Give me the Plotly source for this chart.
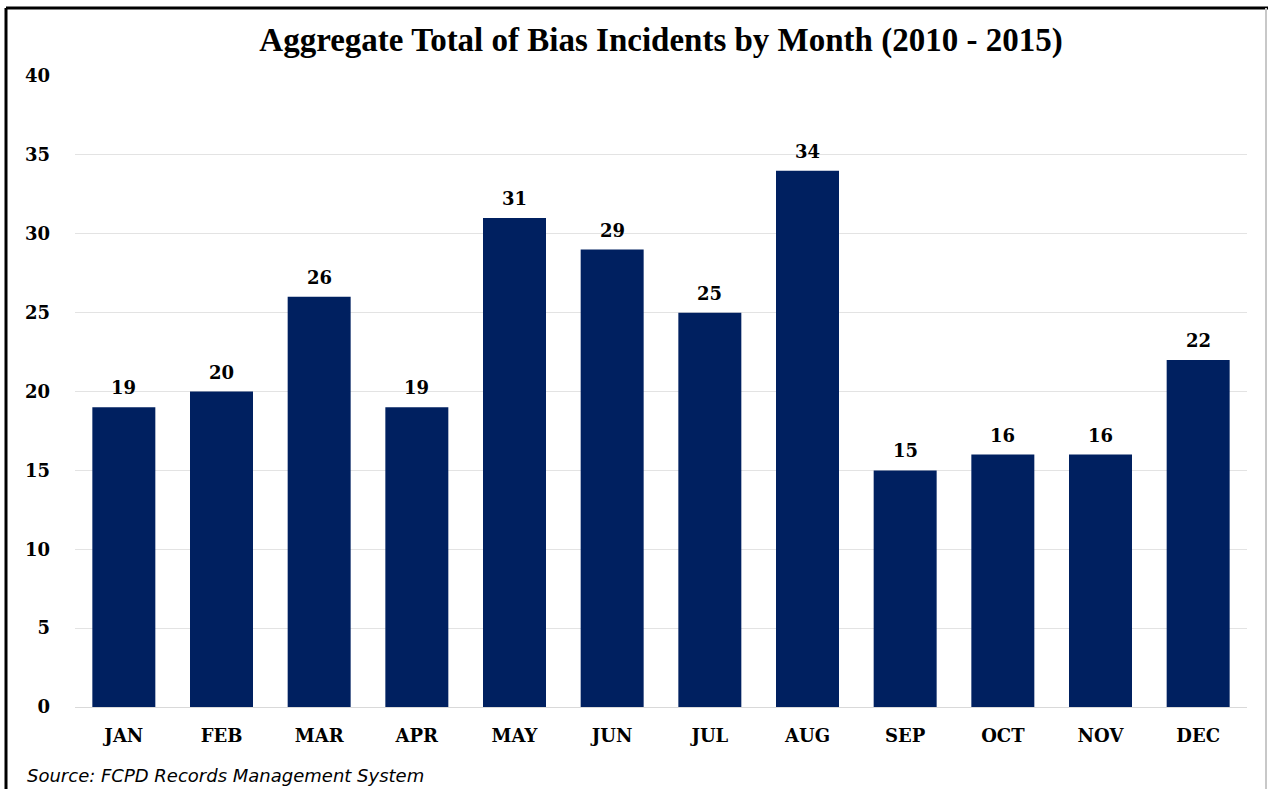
import plotly.graph_objects as go

months = ["JAN", "FEB", "MAR", "APR", "MAY", "JUN", "JUL", "AUG", "SEP", "OCT", "NOV", "DEC"]
incidents = [19, 20, 26, 19, 31, 29, 25, 34, 15, 16, 16, 22]
y_ticks = [0, 5, 10, 15, 20, 25, 30, 35, 40]

W, H = 1268, 789
L, R, T, B = 75, 21, 76, 82
PW, PH = W - L - R, H - T - B

SERIF = "DejaVu Serif"

fig = go.Figure(go.Bar(
    x=months, y=incidents,
    marker=dict(color="#002060", line=dict(width=0)),
))

label_anns = [dict(x=m, y=v, xref="x", yref="y", text=f"<b>{v}</b>", showarrow=False,
                   yanchor="bottom", yshift=7,
                   font=dict(family=SERIF, size=18, color="#000000"))
              for m, v in zip(months, incidents)]

fig.update_layout(
    width=W, height=H,
    margin=dict(l=L, r=R, t=T, b=B),
    paper_bgcolor="white", plot_bgcolor="white",
    bargap=0.355,
    showlegend=False,
    title=dict(text="<b>Aggregate Total of Bias Incidents by Month (2010 - 2015)</b>",
               x=0.5, xanchor="center", xref="paper", y=1 - 39 / H, yanchor="middle",
               font=dict(family="Liberation Serif", size=33, color="#000000")),
    xaxis=dict(showgrid=False, showline=False, ticks="", ticklabelstandoff=16,
               tickvals=months, ticktext=[f"<b>{m}</b>" for m in months],
               tickfont=dict(family=SERIF, size=18, color="#000000")),
    yaxis=dict(range=[0, 40], tickvals=y_ticks, ticktext=[f"<b>{v}</b>" for v in y_ticks],
               showgrid=True, gridcolor="#e3e3e3", gridwidth=1, zeroline=True,
               zerolinecolor="#d9d9d9", zerolinewidth=1, showline=False, ticks="",
               ticklabelstandoff=24,
               tickfont=dict(family=SERIF, size=18, color="#000000")),
    annotations=label_anns + [dict(text="<i>Source: FCPD Records Management System</i>",
                      xref="paper", yref="paper", x=-50 / PW, xanchor="left",
                      y=-(775 - (H - B)) / PH, yanchor="middle", showarrow=False,
                      font=dict(family="DejaVu Sans", size=18, color="#000000"))],
    shapes=[
        dict(type="line", xref="paper", yref="paper", x0=-69 / PW, x1=1 + 21 / PW,
             y0=1 + 68 / PH, y1=1 + 68 / PH, line=dict(color="black", width=3)),
        dict(type="line", xref="paper", yref="paper", x0=-69 / PW, x1=-69 / PW,
             y0=1 + 68 / PH, y1=-(B + 5) / PH, line=dict(color="black", width=3)),
        dict(type="line", xref="paper", yref="paper", x0=1 + 19 / PW, x1=1 + 19 / PW,
             y0=1 + 68 / PH, y1=-(B + 5) / PH, line=dict(color="#c8c8c8", width=2)),
    ],
)

fig.write_html("out.html", config={"displayModeBar": False},
               post_script="document.body.style.margin='0';")
